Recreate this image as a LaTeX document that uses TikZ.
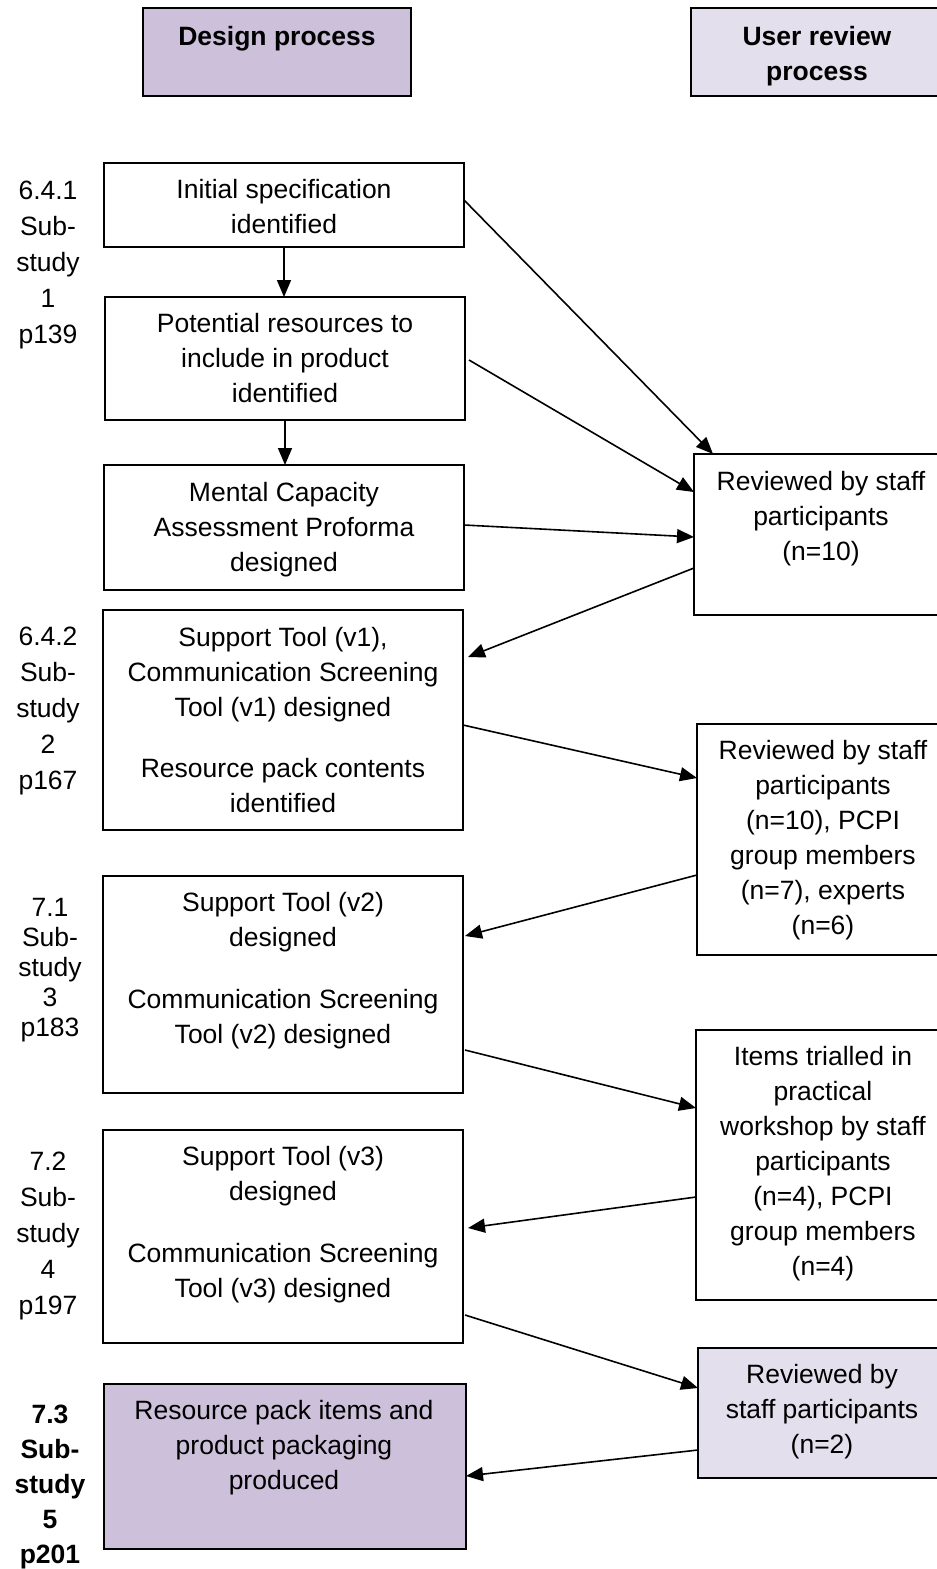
\documentclass[tikz,border=0pt]{standalone}
\usepackage{fontspec}
\setmainfont{Liberation Sans}
\usetikzlibrary{arrows.meta}
\definecolor{lavdark}{HTML}{CCC0DA}
\definecolor{lavlight}{HTML}{E4DFEC}
\begin{document}
\begin{tikzpicture}[x=1pt,y=-1pt,
  box/.style={draw, line width=2.2pt, anchor=north west, inner sep=0pt, outer sep=0pt},
  txt/.style={anchor=north, align=center, inner sep=0pt, font=\fontsize{26.5}{35}\selectfont},
  lbl/.style={anchor=north, align=center, inner sep=0pt, font=\fontsize{26.5}{36}\selectfont},
  arr/.style={line width=1.6pt, -{Triangle[length=17pt,width=14pt]}}]
\useasboundingbox[fill=white] (0,0) rectangle (937,1569);

% column headings
\node[box, fill=lavdark, minimum width=268pt, minimum height=88pt] (hL) at (143,8) {};
\node[box, fill=lavlight, minimum width=254pt, minimum height=88pt] (hR) at (691,8) {};
\node[txt, font=\fontsize{26.5}{35}\selectfont\bfseries] (hLt) at (277,26) {Design process};
\node[txt, font=\fontsize{26.5}{35}\selectfont\bfseries] (hRt) at (817,26) {User review\\process};

% design process boxes
\node[box, minimum width=360pt, minimum height=84pt] (b1) at (104,163) {};
\node[box, minimum width=360pt, minimum height=123pt] (b2) at (105,297) {};
\node[box, minimum width=360pt, minimum height=125pt] (b3) at (104,465) {};
\node[box, minimum width=360pt, minimum height=220pt] (b4) at (103,610) {};
\node[box, minimum width=360pt, minimum height=217pt] (b5) at (103,876) {};
\node[box, minimum width=360pt, minimum height=213pt] (b6) at (103,1130) {};
\node[box, fill=lavdark, minimum width=362pt, minimum height=165pt] (b7) at (104,1384) {};

\node[txt] (b1t) at (284,179) {Initial specification\\identified};
\node[txt] (b2t) at (285,313) {Potential resources to\\include in product\\identified};
\node[txt] (b3t) at (284,482) {Mental Capacity\\Assessment Proforma\\designed};
\node[txt] (b4t) at (283,627) {Support Tool (v1),\\Communication Screening\\Tool (v1) designed\\[26pt]Resource pack contents\\identified};
\node[txt] (b5t) at (283,892) {Support Tool (v2)\\designed\\[27pt]Communication Screening\\Tool (v2) designed};
\node[txt] (b6t) at (283,1146) {Support Tool (v3)\\designed\\[27pt]Communication Screening\\Tool (v3) designed};
\node[txt] (b7t) at (284,1400) {Resource pack items and\\product packaging\\produced};

% user review boxes
\node[box, minimum width=251pt, minimum height=161pt] (r1) at (694,454) {};
\node[box, minimum width=248pt, minimum height=231pt] (r2) at (697,724) {};
\node[box, minimum width=249pt, minimum height=270pt] (r3) at (696,1030) {};
\node[box, fill=lavlight, minimum width=247pt, minimum height=130pt] (r4) at (698,1348) {};

\node[txt] (r1t) at (821,471) {Reviewed by staff\\participants\\(n=10)};
\node[txt] (r2t) at (823,740) {Reviewed by staff\\participants\\(n=10), PCPI\\group members\\(n=7), experts\\(n=6)};
\node[txt] (r3t) at (823,1046) {Items trialled in\\practical\\workshop by staff\\participants\\(n=4), PCPI\\group members\\(n=4)};
\node[txt] (r4t) at (822,1364) {Reviewed by\\staff participants\\(n=2)};

% sub-study labels
\node[lbl] (s1) at (48,181) {6.4.1\\Sub-\\study\\1\\p139};
\node[lbl] (s2) at (48,627) {6.4.2\\Sub-\\study\\2\\p167};
\node[lbl, font=\fontsize{26.5}{30}\selectfont] (s3) at (50,898) {7.1\\Sub-\\study\\3\\p183};
\node[lbl] (s4) at (48,1152) {7.2\\Sub-\\study\\4\\p197};
\node[lbl, font=\fontsize{26.5}{35}\selectfont\bfseries] (s5) at (50,1405) {7.3\\Sub-\\study\\5\\p201};

% connectors
\draw[arr] (b1.south) -- (b1.south |- b2.north);
\draw[arr] (b2.south) -- (b2.south |- b3.north);
\draw[arr] ([yshift=-37pt]b1.north east) -- ([xshift=19pt]r1.north west);
\draw[arr] ([xshift=4pt,yshift=-63pt]b2.north east) -- ([yshift=-38pt]r1.north west);
\draw[arr] ([yshift=-60pt]b3.north east) -- ([yshift=-83pt]r1.north west);
\draw[arr] ([yshift=-114pt]r1.north west) -- ([xshift=5pt,yshift=-47pt]b4.north east);
\draw[arr] ([yshift=-115pt]b4.north east) -- ([yshift=-54pt]r2.north west);
\draw[arr] ([yshift=-151pt]r2.north west) -- ([xshift=2pt,yshift=-60pt]b5.north east);
\draw[arr] ([xshift=2pt,yshift=-174pt]b5.north east) -- ([yshift=-78pt]r3.north west);
\draw[arr] ([yshift=-167pt]r3.north west) -- ([xshift=5pt,yshift=-98pt]b6.north east);
\draw[arr] ([xshift=2pt,yshift=-185pt]b6.north east) -- ([yshift=-40pt]r4.north west);
\draw[arr] ([yshift=-102pt]r4.north west) -- ([yshift=-92pt]b7.north east);
\end{tikzpicture}
\end{document}
